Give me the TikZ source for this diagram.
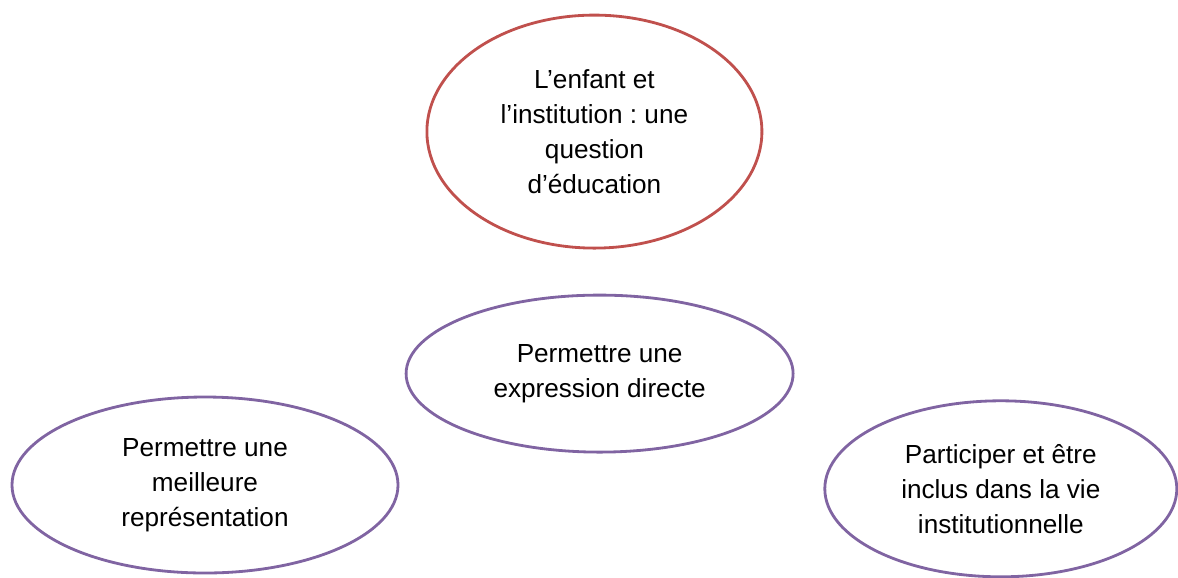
\documentclass[tikz,border=0pt]{standalone}
\usepackage{fontspec}
\setmainfont{Liberation Sans}
\usepackage{tikz}
\usetikzlibrary{shapes.geometric}
\definecolor{bulred}{RGB}{192,80,77}
\definecolor{bulpurple}{RGB}{128,100,162}
\frenchspacing

\begin{document}
\begin{tikzpicture}[
  bulle/.style={ellipse,draw,line width=2pt,inner sep=0pt,align=center,
    font=\fontsize{18.6}{24.9}\selectfont},
  theme/.style={bulle,draw=bulred},
  axe/.style={bulle,draw=bulpurple}]

\useasboundingbox (0,0) rectangle (29.45,-14.425);

\node[theme,minimum width=8.375cm,minimum height=5.825cm] (educ) at (14.86,-3.29)
  {L’enfant et\\l’institution : une\\question\\d’éducation};

\node[axe,minimum width=9.675cm,minimum height=3.925cm] (expr) at (14.99,-9.34)
  {Permettre une\\expression directe};
\node[axe,minimum width=9.65cm,minimum height=4.4cm] (repr) at (5.125,-12.125)
  {Permettre une\\meilleure\\représentation};
\node[axe,minimum width=8.8cm,minimum height=4.4cm] (vie) at (25.02,-12.22)
  {Participer et être\\inclus dans la vie\\institutionnelle};

\end{tikzpicture}
\end{document}
